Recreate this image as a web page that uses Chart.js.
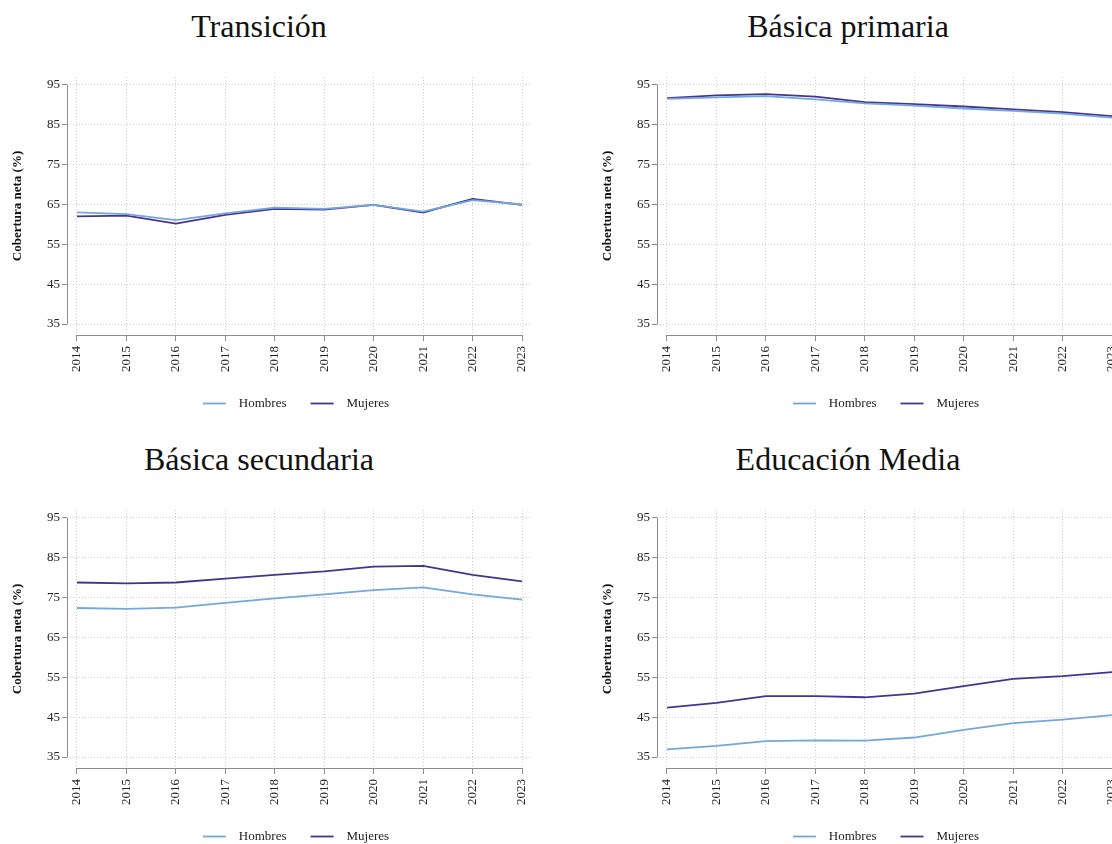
<!DOCTYPE html>
<html lang="es">
<head>
<meta charset="utf-8">
<title>Cobertura neta por sexo</title>
<script src="https://cdn.jsdelivr.net/npm/chart.js@4.4.1/dist/chart.umd.min.js"></script>
<style>
    html, body {
        margin: 0;
        padding: 0;
        background: #ffffff;
        width: 1112px;
        height: 844px;
        overflow: hidden;
        position: relative;
    }
    .titulo {
        position: absolute;
        width: 420px;
        text-align: center;
        font-family: "Liberation Serif", "DejaVu Serif", serif;
        font-size: 32px;
        line-height: 36px;
        color: #111111;
    }
    canvas {
        position: absolute;
    }
</style>
</head>
<body>

<div class="titulo" style="left:49px; top:8px;">Transición</div>
<div class="titulo" style="left:638px; top:8px;">Básica primaria</div>
<div class="titulo" style="left:49px; top:441px;">Básica secundaria</div>
<div class="titulo" style="left:638px; top:441px;">Educación Media</div>

<canvas id="graficaTransicion" width="592" height="430" style="left:0px; top:0px;"></canvas>
<canvas id="graficaPrimaria" width="592" height="430" style="left:590px; top:0px;"></canvas>
<canvas id="graficaSecundaria" width="592" height="430" style="left:0px; top:433px;"></canvas>
<canvas id="graficaMedia" width="592" height="430" style="left:590px; top:433px;"></canvas>

<script>
"use strict";

// eje X: años
const anios = [2014, 2015, 2016, 2017, 2018, 2019, 2020, 2021, 2022, 2023];

// eje Y: marcas de cobertura (%)
const marcasY = [35, 45, 55, 65, 75, 85, 95];

// Transición
const transicionHombres = [63.0, 62.6, 61.1, 62.8, 64.2, 63.9, 64.9, 63.2, 66.1, 65.0];
const transicionMujeres = [62.0, 62.2, 60.2, 62.4, 63.9, 63.7, 64.9, 63.0, 66.4, 64.9];

// Básica primaria
const primariaHombres = [91.5, 91.9, 92.2, 91.4, 90.4, 89.8, 89.1, 88.5, 87.8, 86.8];
const primariaMujeres = [91.7, 92.4, 92.7, 92.1, 90.7, 90.2, 89.6, 88.9, 88.2, 87.2];

// Básica secundaria
const secundariaHombres = [72.4, 72.2, 72.5, 73.7, 74.8, 75.8, 76.9, 77.6, 75.8, 74.5];
const secundariaMujeres = [78.8, 78.6, 78.8, 79.8, 80.7, 81.6, 82.8, 83.0, 80.7, 79.1];

// Educación Media
const mediaHombres = [36.9, 37.8, 39.0, 39.2, 39.1, 39.9, 41.8, 43.5, 44.4, 45.5];
const mediaMujeres = [47.4, 48.6, 50.3, 50.3, 50.0, 50.9, 52.8, 54.6, 55.3, 56.3];

const colorHombres = "#74a7dc";
const colorMujeres = "#45348f";
const fuente = "'Liberation Serif', 'DejaVu Serif', serif";

//convierto los valores en puntos {x, y} para la escala lineal
function puntos(valores) {
    return valores.map((v, i) => ({ x: anios[i], y: v }));
}

//dibuja las lineas de los ejes solo entre la primera y la ultima marca (estilo Stata)
const lineasEjes = {
    id: "lineasEjes",
    beforeDatasetsDraw(chart) {
        const ctx = chart.ctx;
        const area = chart.chartArea;
        const x = chart.scales.x;
        const y = chart.scales.y;
        ctx.save();
        ctx.strokeStyle = "#8c8c8c";
        ctx.lineWidth = 1;
        ctx.beginPath();
        ctx.moveTo(area.left + 0.5, y.getPixelForValue(marcasY[0]));
        ctx.lineTo(area.left + 0.5, y.getPixelForValue(marcasY[marcasY.length - 1]));
        ctx.moveTo(x.getPixelForValue(anios[0]), area.bottom + 0.5);
        ctx.lineTo(x.getPixelForValue(anios[anios.length - 1]), area.bottom + 0.5);
        ctx.stroke();
        ctx.restore();
    }
};

function crearGrafica(idCanvas, hombres, mujeres) {
    const ctx = document.getElementById(idCanvas).getContext("2d");
    return new Chart(ctx, {
        type: "line",
        data: {
            datasets: [
                {
                    label: "Hombres",
                    data: puntos(hombres),
                    borderColor: colorHombres,
                    backgroundColor: colorHombres,
                    borderWidth: 1.8,
                    pointRadius: 0,
                    tension: 0
                },
                {
                    label: "Mujeres",
                    data: puntos(mujeres),
                    borderColor: colorMujeres,
                    backgroundColor: colorMujeres,
                    borderWidth: 1.8,
                    pointRadius: 0,
                    tension: 0
                }
            ]
        },
        options: {
            responsive: false,
            animation: false,
            devicePixelRatio: 1,
            layout: {
                padding: { top: 77, right: 0, left: 0, bottom: 10 }
            },
            plugins: {
                tooltip: { enabled: false },
                title: { display: false },
                legend: {
                    position: "bottom",
                    labels: {
                        usePointStyle: true,
                        pointStyle: "line",
                        pointStyleWidth: 23,
                        boxHeight: 13,
                        padding: 24,
                        color: "#222222",
                        font: { family: fuente, size: 13 },
                        //dos espacios para separar la muestra de linea del texto
                        generateLabels: (chart) => {
                            const items = Chart.defaults.plugins.legend.labels.generateLabels(chart);
                            items.forEach(it => { it.text = "  " + it.text; });
                            return items;
                        }
                    }
                }
            },
            scales: {
                x: {
                    type: "linear",
                    min: 2013.798,
                    max: 2023.182,
                    afterBuildTicks: (eje) => {
                        eje.ticks = anios.map(a => ({ value: a }));
                    },
                    afterFit: (eje) => {
                        eje.height = 38;
                    },
                    ticks: {
                        autoSkip: false,
                        minRotation: 90,
                        maxRotation: 90,
                        padding: 5,
                        color: "#222222",
                        font: { family: fuente, size: 13 },
                        callback: (valor) => String(valor)
                    },
                    grid: {
                        color: "#cfcfcf",
                        lineWidth: 1,
                        tickLength: 6,
                        tickColor: "#8c8c8c",
                        tickBorderDash: []
                    },
                    border: { display: false, dash: [1, 2] }
                },
                y: {
                    type: "linear",
                    min: 32.25,
                    max: 97,
                    afterBuildTicks: (eje) => {
                        eje.ticks = marcasY.map(v => ({ value: v }));
                    },
                    afterFit: (eje) => {
                        eje.width = 67;
                    },
                    ticks: {
                        padding: 2,
                        color: "#222222",
                        font: { family: fuente, size: 13 }
                    },
                    grid: {
                        color: "#cfcfcf",
                        lineWidth: 1,
                        tickLength: 5,
                        tickColor: "#8c8c8c",
                        tickBorderDash: []
                    },
                    border: { display: false, dash: [1, 2] },
                    title: {
                        display: true,
                        text: "Cobertura neta (%)",
                        color: "#111111",
                        font: { family: fuente, size: 13, weight: "bold" },
                        padding: { top: 10, bottom: 0 }
                    }
                },
                //eje vacio a la derecha: deja el margen sin descentrar la leyenda
                margenDerecho: {
                    type: "linear",
                    axis: "y",
                    position: "right",
                    display: true,
                    afterFit: (eje) => {
                        eje.width = 61;
                    },
                    ticks: { display: false },
                    grid: { display: false, drawTicks: false },
                    border: { display: false }
                }
            }
        },
        plugins: [lineasEjes]
    });
}

crearGrafica("graficaTransicion", transicionHombres, transicionMujeres);
crearGrafica("graficaPrimaria", primariaHombres, primariaMujeres);
crearGrafica("graficaSecundaria", secundariaHombres, secundariaMujeres);
crearGrafica("graficaMedia", mediaHombres, mediaMujeres);
</script>
</body>
</html>
